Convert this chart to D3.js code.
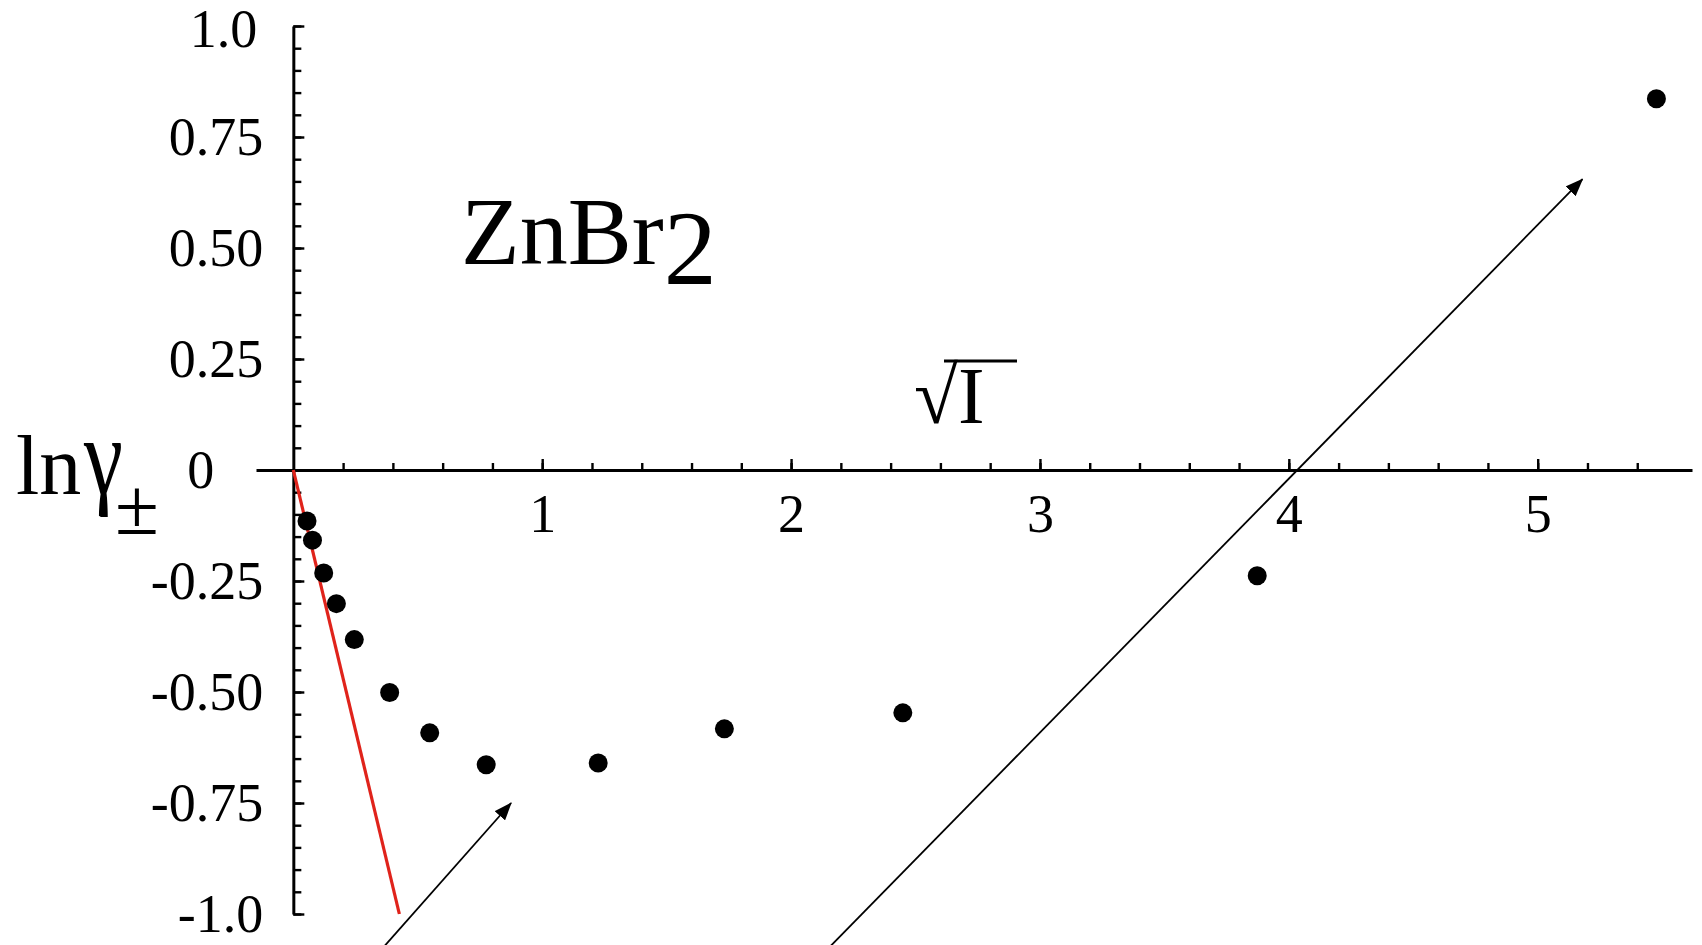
<!DOCTYPE html>
<html>
<head>
<meta charset="utf-8">
<script src="https://cdn.jsdelivr.net/npm/d3@7"></script>
<style>
  body { margin: 0; background: #fff; }
  svg text { font-family: "Liberation Serif", "Times New Roman", serif; fill: #000; }
</style>
</head>
<body>
<svg id="canvas" width="1702" height="945"></svg>
<script>
// measured points: sqrt(I) against ln gamma(+-) for ZnBr2
let sqrtI = [0.055, 0.077, 0.122, 0.173, 0.245, 0.387, 0.548, 0.775, 1.225, 1.732, 2.449, 3.873, 5.477]
let lnGamma = [-0.115, -0.158, -0.232, -0.301, -0.382, -0.501, -0.592, -0.664, -0.660, -0.583, -0.547, -0.238, 0.836]

// limiting law (red line)
let limitX = [0, 0.426]
let limitY = [0, -1.0]

// the two arrows, start and tip
let arrowStart = [[0.354, -1.08], [2.145, -1.08]]
let arrowTip = [[0.875, -0.75], [5.18, 0.655]]

// ticks
let xTicks = [1, 2, 3, 4, 5]
let xTickLabels = ['1', '2', '3', '4', '5']
let yTicks = [1, 0.75, 0.5, 0.25, 0, -0.25, -0.5, -0.75, -1]
let yTickLabels = ['1.0', '0.75', '0.50', '0.25', '0', '-0.25', '-0.50', '-0.75', '-1.0']

let canvas = d3.select('#canvas')

let x = d3.scaleLinear().domain([-0.15, 5.62]).range([256, 1692])
let y = d3.scaleLinear().domain([-1, 1]).range([914, 26])

let styleAxis = (g) => {
    g.attr('font-family', null).attr('font-size', null)
    g.selectAll('.tick line').attr('stroke', '#000').attr('stroke-width', 2.4)
    g.selectAll('.tick text').style('font-size', '54px')
}

// x axis, minor ticks every 0.2
canvas.append('g')
    .attr('transform', `translate(0,${y(0)})`)
    .call(d3.axisBottom(x).tickValues(d3.range(0.2, 5.5, 0.2)).tickSize(-7).tickFormat(''))
    .call(g => g.select('.domain').remove())
    .call(styleAxis)

// x axis, major ticks and line
canvas.append('g')
    .attr('transform', `translate(0,${y(0)})`)
    .call(d3.axisBottom(x).tickValues(xTicks).tickSizeInner(-11).tickSizeOuter(0).tickPadding(24)
        .tickFormat((d, i) => xTickLabels[i]))
    .call(styleAxis)
    .call(g => g.select('.domain').attr('stroke', '#000').attr('stroke-width', 3))

// y axis, minor ticks every 0.05
canvas.append('g')
    .attr('transform', `translate(${x(0)},0)`)
    .call(d3.axisLeft(y).tickValues(d3.range(-1, 1.001, 0.05)).tickSize(-8).tickFormat(''))
    .call(g => g.select('.domain').remove())
    .call(styleAxis)

// y axis, major ticks and line
canvas.append('g')
    .attr('transform', `translate(${x(0)},0)`)
    .call(d3.axisLeft(y).tickValues(yTicks).tickSizeInner(-11).tickSizeOuter(0).tickPadding(30)
        .tickFormat((d, i) => yTickLabels[i]))
    .call(styleAxis)
    .call(g => g.select('.domain').attr('stroke', '#000').attr('stroke-width', 3))
    .call(g => g.selectAll('.tick text').filter(d => d === 0).attr('x', -79))
    .call(g => g.selectAll('.tick text').filter(d => d === 1).attr('x', -36).attr('dy', '0.38em'))

// red limiting line
canvas.append('line')
    .attr('x1', x(limitX[0])).attr('y1', y(limitY[0]))
    .attr('x2', x(limitX[1])).attr('y2', y(limitY[1]))
    .attr('stroke', '#e0231b')
    .attr('stroke-width', 3.2)

// data dots
canvas.selectAll('circle.pt')
    .data(sqrtI)
    .enter()
    .append('circle')
    .attr('class', 'pt')
    .attr('cx', d => x(d))
    .attr('cy', (d, i) => y(lnGamma[i]))
    .attr('r', 9.5)
    .attr('fill', '#000')

// arrows
canvas.append('defs').append('marker')
    .attr('id', 'head')
    .attr('markerUnits', 'userSpaceOnUse')
    .attr('markerWidth', 18).attr('markerHeight', 14)
    .attr('refX', 17).attr('refY', 7)
    .attr('orient', 'auto')
    .append('path')
    .attr('d', 'M0,0 L18,7 L0,14 Z')
    .attr('fill', '#000')

canvas.selectAll('line.arrow')
    .data(arrowStart)
    .enter()
    .append('line')
    .attr('class', 'arrow')
    .attr('x1', d => x(d[0])).attr('y1', d => y(d[1]))
    .attr('x2', (d, i) => x(arrowTip[i][0])).attr('y2', (d, i) => y(arrowTip[i][1]))
    .attr('stroke', '#000')
    .attr('stroke-width', 1.8)
    .attr('marker-end', 'url(#head)')

// title ZnBr2
let title = canvas.append('text')
    .attr('x', 461).attr('y', 264)
    .style('font-size', '96px')
title.append('tspan').text('ZnBr')
title.append('tspan').attr('dy', 20).style('font-size', '106px').text('2')

// x label: square root of I
canvas.append('text')
    .attr('x', 914).attr('y', 423)
    .style('font-size', '80px')
    .text('\u221aI')
canvas.append('line')
    .attr('x1', 944).attr('y1', 361).attr('x2', 1017).attr('y2', 361)
    .attr('stroke', '#000').attr('stroke-width', 3)

// y label ln gamma +-
canvas.append('text')
    .attr('x', 16).attr('y', 494)
    .style('font-size', '84px')
    .text('ln')
canvas.append('text')
    .attr('transform', 'translate(84,494) scale(1.05,1.3)')
    .style('font-size', '84px')
    .text('\u03b3')
canvas.append('text')
    .attr('x', 115).attr('y', 534)
    .style('font-size', '80px')
    .text('\u00b1')
</script>
</body>
</html>
